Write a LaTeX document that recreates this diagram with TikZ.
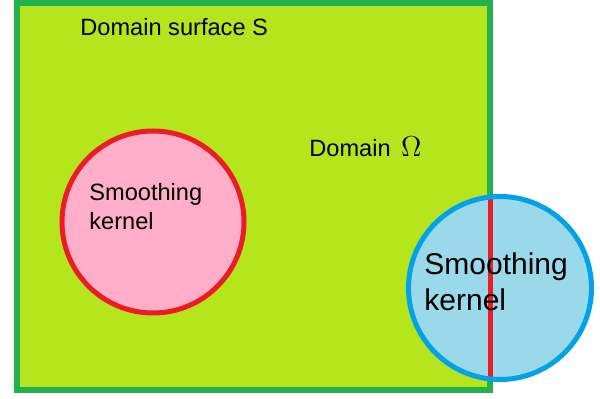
\documentclass[tikz,border=0pt]{standalone}
\usepackage{fontspec}
\setmainfont{Liberation Sans}
\definecolor{limefill}{RGB}{181,230,29}
\definecolor{frame}{RGB}{34,177,76}
\definecolor{pinkfill}{RGB}{255,174,201}
\definecolor{kred}{RGB}{237,28,36}
\definecolor{skyfill}{RGB}{153,217,234}
\definecolor{skyline}{RGB}{0,162,232}
\tikzset{
  lbl/.style={anchor=base west,inner sep=0pt,font=\fontsize{11.8}{14.5}\selectfont},
  biglbl/.style={anchor=base west,inner sep=0pt,align=left,font=\fontsize{15}{18.3}\selectfont}
}
\begin{document}
\begin{tikzpicture}[x=0.5pt,y=-0.5pt] % pixel grid, y downwards
		\useasboundingbox (0,0) rectangle (600,399);
		\pgfmathsetmacro\R{91.5}
		% domain
		\draw[line width=3pt,draw=frame,fill=limefill] (17,3) rectangle (489.5,390);
		% kernel inside
		\draw[line width=2.5pt,draw=kred,fill=pinkfill] (153,222) circle (91);
		% kernel cut by the surface
		\fill[skyfill] (500,288) circle (\R);
		\begin{scope}
		\clip (500,288) circle (\R);
		\draw[line width=2.5pt,kred] (490,150) -- (490,420);
		\end{scope}
		\draw[line width=2.5pt,skyline] (500,288) circle (\R);
		% base anchor sits on the last line
		\node[lbl] (surf) at (80,36) {Domain surface S};
		\node[lbl] (dom) at (309,156.7) {Domain \,{\fontsize{14.5}{14.5}\selectfont$\Omega$}};
		\node[lbl,align=left] (kerA) at (89,229.3) {Smoothing\\kernel};
		\node[biglbl] (kerB) at (424,310.7) {Smoothing\\kernel};
\end{tikzpicture}
\end{document}
